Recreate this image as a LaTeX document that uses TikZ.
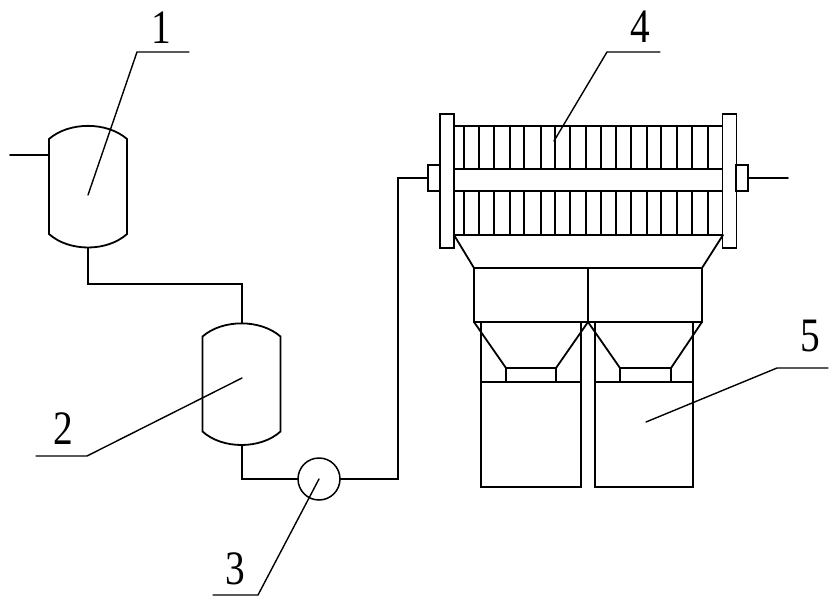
\documentclass[tikz,border=0pt]{standalone}
\usepackage{fontspec}
\setmainfont{Liberation Serif}
\begin{document}
\begin{tikzpicture}[x=1pt,y=-1pt,
  line cap=round,
  every path/.style={line join=miter},
  equip/.style={draw=black,line width=1.8pt,fill=white},
  pipe/.style={draw=black,line width=1.8pt,line join=miter},
  thin line/.style={draw=black,line width=1.8pt},
  leader/.style={draw=black,line width=1.4pt},
  vesselbody/.style={minimum width=78pt,minimum height=95pt,inner sep=0pt,outer sep=0pt},
  plate/.style={equip,minimum width=14pt,minimum height=134pt,inner sep=0pt,outer sep=0pt},
  stub/.style={equip,minimum width=12pt,minimum height=26pt,inner sep=0pt,outer sep=0pt},
  pumpnode/.style={draw=black,line width=1.5pt,circle,minimum size=42pt,inner sep=0pt,outer sep=0pt},
  tag/.style={font=\fontsize{48}{48}\selectfont,xscale=.82,inner sep=0pt}]
\useasboundingbox[fill=white] (0,0) rectangle (840,604);

% vessels
\node[vesselbody] (v1) at (88,186.5) {};
\node[vesselbody] (v2) at (241.5,384) {};
\foreach \v in {v1,v2}{
  \draw[equip] (\v.north west) .. controls +(20,-17.5) and +(-20,-17.5) .. (\v.north east)
    -- (\v.south east) .. controls +(-20,18) and +(20,18) .. (\v.south west) -- cycle;
}
\coordinate (v1top) at (88,126);
\coordinate (v1bot) at (88,248);
\coordinate (v2top) at (242,323);
\coordinate (v2bot) at (242,445);
\coordinate (v1in) at (10,155);
\coordinate (v1wall) at (49,155);
\node[pumpnode] (pump) at (319,479) {};

% filter press
\foreach \x in {464,479,494,510,524,541,555,570,586,601,616,631,647,661,677,692,708}{
  \draw[thin line] (\x,126) -- (\x,169);
  \draw[thin line] (\x,191) -- (\x,235);
}
\draw[thin line] (454,126) -- (723,126);
\draw[thin line] (454,169) -- (723,169);
\draw[thin line] (454,191) -- (723,191);
\draw[thin line] (454,235) -- (723,235);
\node[plate] (pl) at (447,181) {};
\node[plate] (pr) at (729.5,181) {};
\node[stub] (sl) at (434,178) {};
\node[stub] (sr) at (742,178) {};
\coordinate (outr) at (788,178);

% hoppers under the filter
\coordinate (boxnw) at (474,268);
\coordinate (boxne) at (702,268);
\coordinate (boxsw) at (474,322);
\coordinate (boxse) at (702,322);
\coordinate (boxnm) at (588,268);
\coordinate (boxsm) at (588,322);
\draw[thin line] (454,235) -- (boxnw);
\draw[thin line] (723,235) -- (boxne);
\draw[thin line] (boxnw) rectangle (boxse);
\draw[thin line] (boxnm) -- (boxsm);

% bins
\draw[thin line] (481,322) -- (481,487) -- (581,487) -- (581,322);
\draw[thin line] (595,322) -- (595,487) -- (693,487) -- (693,322);
\draw[thin line] (481,382) -- (581,382);
\draw[thin line] (595,382) -- (693,382);
\node[draw=black,line width=1.8pt,minimum width=50pt,minimum height=14pt,inner sep=0pt,outer sep=0pt] (chl) at (531,375) {};
\node[draw=black,line width=1.8pt,minimum width=51pt,minimum height=14pt,inner sep=0pt,outer sep=0pt] (chr) at (645.5,375) {};
\draw[thin line] (boxsw) -- (chl.north west);
\draw[thin line] (boxsm) -- (chl.north east);
\draw[thin line] (boxsm) -- (chr.north west);
\draw[thin line] (boxse) -- (chr.north east);

% pipes
\draw[pipe] (v1in) -- (v1wall);
\draw[pipe] (v1bot) -- (88,284) -- (242,284) -- (v2top);
\draw[pipe] (v2bot) -- (242,479) -- (pump.west);
\draw[pipe] (pump.east) -- (398,479) -- (398,178) -- (sl.west);
\draw[pipe] (sr.east) -- (outr);

% leaders and tags
\coordinate (t1) at (88,195);
\coordinate (t2) at (242,378);
\coordinate (t3) at (319,479);
\coordinate (t4) at (554,141);
\coordinate (t5) at (646,422);
\draw[leader] (t1) -- (137,52) -- (189,52);
\draw[leader] (t2) -- (87,456) -- (36,456);
\draw[leader] (t3) -- (258,595) -- (213,595);
\draw[leader] (t4) -- (607,52) -- (660,52);
\draw[leader] (t5) -- (777,368) -- (828,368);
\node[tag] (n1) at (161,28) {1};
\node[tag] (n2) at (63,429) {2};
\node[tag] (n3) at (235,569) {3};
\node[tag] (n4) at (640,27) {4};
\node[tag] (n5) at (810,336) {5};
\end{tikzpicture}
\end{document}
